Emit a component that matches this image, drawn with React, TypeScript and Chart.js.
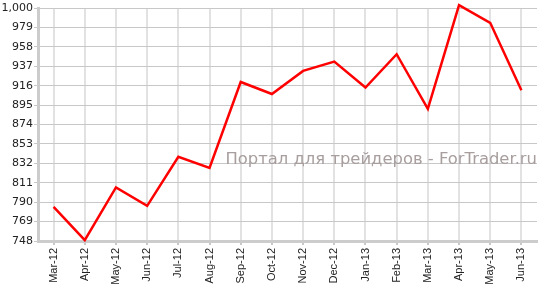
import React, { useEffect, useRef } from "react";
import { Chart, registerables } from "chart.js";

Chart.register(...registerables);

const categories = [
  "Mar-12", "Apr-12", "May-12", "Jun-12", "Jul-12", "Aug-12", "Sep-12", "Oct-12",
  "Nov-12", "Dec-12", "Jan-13", "Feb-13", "Mar-13", "Apr-13", "May-13", "Jun-13",
];
const values = [785, 749, 806, 786, 839, 827, 920, 907, 932, 942, 914, 950, 891, 1003, 984, 911];
const yMin = 748;
const yMax = 1000;
const yStep = 21;
const watermark = "Портал для трейдеров - ForTrader.ru";

const watermarkPlugin = {
  id: "watermark",
  beforeDatasetsDraw(chart: any) {
    const ctx = chart.ctx;
    ctx.save();
    ctx.font = "16.4px 'DejaVu Sans'";
    ctx.fillStyle = "#a89e9e";
    ctx.textAlign = "right";
    ctx.textBaseline = "alphabetic";
    ctx.fillText(watermark, 537, 164);
    ctx.restore();
  },
};

export default function App() {
  const ref = useRef<HTMLCanvasElement | null>(null);
  useEffect(() => {
    document.body.style.margin = "0";
    const chart = new Chart(ref.current as HTMLCanvasElement, {
      type: "line",
      data: {
        labels: categories,
        datasets: [
          {
            data: values,
            borderColor: "#ff0000",
            borderWidth: 2.5,
            pointRadius: 0,
            tension: 0,
            fill: false,
            clip: false as any,
          },
        ],
      },
      options: {
        animation: false,
        responsive: false,
        layout: { padding: { top: 8, right: 7, left: 0, bottom: 0 } },
        plugins: { legend: { display: false }, tooltip: { enabled: false } },
        scales: {
          x: {
            offset: true,
            grid: { offset: false, color: "#e2e2e2", lineWidth: 2, tickColor: "#c8c8c8", tickLength: 4, drawTicks: true },
            border: { color: "#cccccc", width: 3 },
            ticks: {
              maxRotation: 90,
              minRotation: 90,
              autoSkip: false,
              padding: 3,
              color: "#222",
              font: { family: "'Liberation Sans', Arial", size: 11 },
            },
            afterFit(scale: any) {
              scale.height = 50;
            },
          },
          y: {
            min: yMin,
            max: yMax,
            ticks: {
              stepSize: yStep,
              color: "#222",
              padding: 1,
              font: { family: "'DejaVu Sans', Verdana", size: 11 },
              callback: (v: any) => Number(v).toLocaleString("en-US"),
            },
            grid: { color: "#c8c8c8", lineWidth: 1, tickColor: "#c8c8c8", tickLength: 4 },
            border: { color: "#cccccc", width: 3 },
            afterFit(scale: any) {
              scale.width = 38;
            },
          },
        },
      },
      plugins: [watermarkPlugin],
    });
    return () => chart.destroy();
  }, []);
  return <canvas ref={ref} width={544} height={291} style={{ display: "block" }} />;
}
